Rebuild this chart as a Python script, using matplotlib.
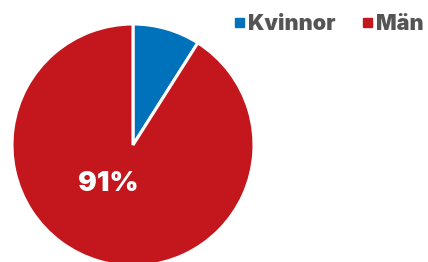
import matplotlib
matplotlib.use("Agg")
import matplotlib.pyplot as plt

labels = ["Kvinnor", "Män"]
shares = [9, 91]
colors = ["#0071bb", "#c3161d"]

W, H = 428, 262
fig = plt.figure(figsize=(W / 100, H / 100), dpi=100)

# pie centre at (133, 145) px, radius 121 px
cx, cy, r = 133, 145, 121
ax = fig.add_axes([(cx - r) / W, (H - cy - r) / H, 2 * r / W, 2 * r / H])
wedges, _ = ax.pie(shares, colors=colors, startangle=90, counterclock=False,
                   radius=1, wedgeprops=dict(edgecolor="white", linewidth=2.2))
ax.set_xlim(-1, 1)
ax.set_ylim(-1, 1)
ax.set_aspect("equal")
ax.axis("off")

# label for the big slice, placed in pixel terms (108, 184)
ax.text((108 - cx) / r, (cy - 184) / r, f"{shares[1]}%", color="white", fontsize=20,
        fontfamily="Inter", fontweight=900, ha="center", va="center")

# legend
legend_x = [235, 363]
for x, lab, col in zip(legend_x, labels, colors):
    fig.patches.append(plt.Rectangle((x / W, (H - 27) / H), 9 / W, 9 / H,
                                     transform=fig.transFigure, color=col))
    fig.text((x + 13) / W, (H - 30) / H, lab, color="#555555", fontsize=15.5,
             fontfamily="Inter", fontweight=900, va="baseline", ha="left")

fig.savefig("out.png", dpi=100)
